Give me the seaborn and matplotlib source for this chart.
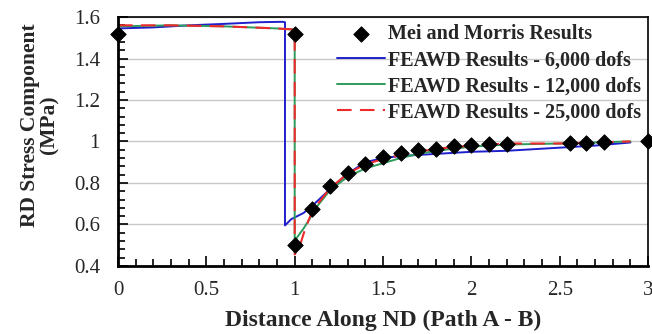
import numpy as np
import pandas as pd
import matplotlib.pyplot as plt
import seaborn as sns
from matplotlib.ticker import MultipleLocator, FormatStrFormatter

# Mei and Morris reference points
mei_x = [0, 1.0, 1.0, 1.1, 1.2, 1.3, 1.4, 1.5, 1.6, 1.7, 1.8, 1.9, 2.0, 2.1, 2.2, 2.56, 2.65, 2.75, 3.0]
mei_y = [1.52, 1.52, 0.50, 0.675, 0.785, 0.85, 0.89, 0.925, 0.945, 0.96, 0.965, 0.978, 0.983, 0.988, 0.988, 0.993, 0.993, 0.996, 1.0]

# FEAWD 6,000 dofs
blue_x = [0, 0.2, 0.4, 0.6, 0.8, 0.93, 0.945, 0.945, 0.98, 1.05, 1.1, 1.2, 1.3, 1.4,
          1.5, 1.6, 1.8, 2.0, 2.2, 2.5, 2.7, 2.9]
blue_y = [1.545, 1.55, 1.56, 1.567, 1.575, 1.577, 1.575, 0.595, 0.625, 0.655, 0.69, 0.77,
          0.845, 0.9, 0.92, 0.93, 0.94, 0.95, 0.955, 0.97, 0.98, 0.995]

# FEAWD 12,000 dofs
green_x = [0, 0.3, 0.6, 0.9, 0.99, 1.0, 1.0, 1.02, 1.05, 1.08, 1.12, 1.2, 1.3, 1.4,
           1.5, 1.6, 1.7, 1.8, 2.0, 2.2, 2.5, 2.7, 2.9]
green_y = [1.555, 1.56, 1.555, 1.545, 1.54, 1.54, 0.52, 0.545, 0.58, 0.62, 0.68, 0.765,
           0.83, 0.87, 0.895, 0.92, 0.94, 0.955, 0.975, 0.985, 0.99, 0.995, 1.0]

# FEAWD 25,000 dofs
red_x = [0, 0.3, 0.6, 0.9, 0.99, 1.0, 1.0, 1.03, 1.06, 1.1, 1.2, 1.3, 1.4, 1.5, 1.6,
         1.8, 2.0, 2.2, 2.5, 2.7, 2.9]
red_y = [1.56, 1.56, 1.555, 1.545, 1.54, 1.54, 0.455, 0.50, 0.58, 0.665, 0.775, 0.845,
         0.89, 0.915, 0.935, 0.965, 0.98, 0.99, 0.99, 0.995, 1.0]

labels = ['Mei and Morris Results', 'FEAWD Results - 6,000 dofs',
          'FEAWD Results - 12,000 dofs', 'FEAWD Results - 25,000 dofs']


def main():
    sns.set_style("white")
    plt.rcParams['font.family'] = ['Liberation Serif', 'DejaVu Serif']

    fig = plt.figure(figsize=(6.52, 3.34), dpi=100)
    ax = fig.add_axes([0.181, 0.204, 0.813, 0.745])

    # === lines ===
    sns.lineplot(x=blue_x, y=blue_y, sort=False, estimator=None, color='#1f1fcc',
                 linewidth=1.4, ax=ax, label=labels[1])
    sns.lineplot(x=green_x, y=green_y, sort=False, estimator=None, color='#2e9a5c',
                 linewidth=1.4, ax=ax, label=labels[2])
    sns.lineplot(x=red_x, y=red_y, sort=False, estimator=None, color='#ee2a2a',
                 linewidth=1.5, ax=ax, label=labels[3], dashes=False)
    ax.lines[2].set_dashes([7, 4])

    sns.scatterplot(x=mei_x, y=mei_y, marker='D', s=62, color='black',
                    edgecolor='black', ax=ax, label=labels[0], zorder=5)
    for c in ax.collections:
        c.set_clip_on(False)

    ax.set_xlim(0, 3)
    ax.set_ylim(0.4, 1.6)
    ax.xaxis.set_major_locator(MultipleLocator(0.5))
    ax.xaxis.set_minor_locator(MultipleLocator(0.1))
    ax.yaxis.set_major_locator(MultipleLocator(0.2))
    ax.yaxis.set_minor_locator(MultipleLocator(0.04))
    ax.xaxis.set_major_formatter(FormatStrFormatter('%g'))
    ax.yaxis.set_major_formatter(FormatStrFormatter('%g'))
    ax.tick_params(which='both', direction='in', bottom=True, left=True, top=False,
                   right=False, labelsize=15, color='black', width=1.2)
    ax.tick_params(which='major', length=7)
    ax.tick_params(which='minor', length=5)
    ax.tick_params(axis='x', pad=11)
    ax.tick_params(axis='y', pad=13)
    ax.grid(axis='y', color='#c8c8c8', linewidth=1)
    ax.set_axisbelow(True)
    for side in ['left', 'bottom']:
        ax.spines[side].set_linewidth(2)
    for side in ['top', 'right']:
        ax.spines[side].set_linewidth(1.2)
    for sp in ax.spines.values():
        sp.set_color('black')

    ax.set_xlabel("Distance Along ND (Path A - B)", fontsize=17, fontweight='bold', labelpad=7)
    ax.set_ylabel("RD Stress Component\n(MPa)", fontsize=15.5, fontweight='bold',
                  linespacing=0.95)
    ax.yaxis.set_label_coords(-0.11, 0.566)

    handles, lbls = ax.get_legend_handles_labels()
    order = [lbls.index(l) for l in labels]
    ax.legend([handles[i] for i in order], [lbls[i] for i in order], loc='upper right',
              frameon=False, prop={'weight': 'bold', 'size': 14.5}, handlelength=2.4,
              labelspacing=0.3, borderaxespad=0.15, borderpad=0.2, handletextpad=0.15)

    plt.savefig("out.png", dpi=100)
    plt.close()


if __name__ == '__main__':
    main()
